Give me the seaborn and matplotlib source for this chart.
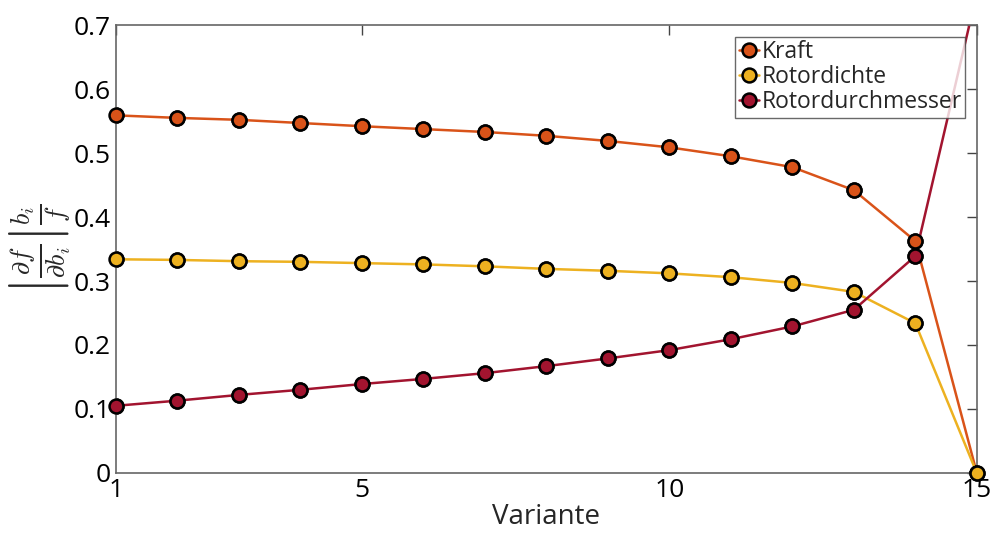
import numpy as np
import pandas as pd
import matplotlib
matplotlib.use("Agg")
import matplotlib.pyplot as plt
import seaborn as sns

variante = list(range(1, 16))
kraft = [0.559, 0.555, 0.552, 0.547, 0.542, 0.5375, 0.533, 0.527, 0.519, 0.509,
         0.495, 0.478, 0.442, 0.3625, 0.0]
rotordichte = [0.334, 0.333, 0.331, 0.330, 0.328, 0.326, 0.323, 0.319, 0.316, 0.312,
               0.306, 0.297, 0.283, 0.234, 0.0]
rotordurchmesser = [0.105, 0.113, 0.122, 0.130, 0.139, 0.147, 0.156, 0.167, 0.179, 0.192,
                    0.209, 0.229, 0.255, 0.339, 0.75]
series_names = ["Kraft", "Rotordichte", "Rotordurchmesser"]
colors = ["#D95319", "#EDB120", "#A2142F"]
xticks = [1, 5, 10, 15]
yticks = [0, 0.1, 0.2, 0.3, 0.4, 0.5, 0.6, 0.7]

df = pd.DataFrame({
    "Variante": variante * 3,
    "value": kraft + rotordichte + rotordurchmesser,
    "series": sum([[n] * len(variante) for n in series_names], []),
})

sns.set_theme(style="white")
plt.rcParams["font.family"] = ["Open Sans", "DejaVu Sans"]
plt.rcParams["mathtext.fontset"] = "cm"

fig = plt.figure(figsize=(9.94, 5.35), dpi=100)
ax = fig.add_axes([0.1167, 0.116, 0.866, 0.837])

palette = dict(zip(series_names, colors))
sns.lineplot(data=df, x="Variante", y="value", hue="series", palette=palette,
             marker="o", markersize=10, markeredgecolor="black", markeredgewidth=1.8,
             linewidth=1.8, ax=ax, legend=True, zorder=2)

ymin, ymax = 0, 0.7
for name, vals, c in zip(series_names, [kraft, rotordichte, rotordurchmesser], colors):
    xs = [x for x, v in zip(variante, vals) if ymin <= v <= ymax]
    vs = [v for v in vals if ymin <= v <= ymax]
    ax.plot(xs, vs, linestyle="none", marker="o", markersize=10, markerfacecolor=c,
            markeredgecolor="black", markeredgewidth=1.8, clip_on=False, zorder=3)

ax.set_xlim(1, 15)
ax.set_ylim(ymin, ymax)
ax.set_xticks(xticks)
ax.set_xticklabels([str(t) for t in xticks])
ax.set_yticks(yticks)
ax.set_yticklabels(["0" if t == 0 else f"{t:.1f}" for t in yticks])
ax.tick_params(axis="both", which="both", direction="in", length=7, width=1,
               color="#444444", labelsize=19, top=True, right=True, pad=4,
               labelcolor="black")
for sp in ax.spines.values():
    sp.set_color("#666666")
    sp.set_linewidth(1.2)

ax.set_xlabel("Variante", fontsize=20, labelpad=0)
ax.set_ylabel(r"$\left|\frac{\partial f}{\partial b_i}\right|\frac{b_i}{f}$", fontsize=27, labelpad=0)

leg = ax.legend(loc="upper right", fontsize=16.5, frameon=True, fancybox=False,
                handlelength=0.9, handletextpad=0.1, borderpad=0.15, labelspacing=0.05,
                borderaxespad=0.5, title=None)
leg.get_frame().set_edgecolor("#444444")
leg.get_frame().set_linewidth(1.0)
for h in leg.legend_handles:
    h.set_markersize(10)
    h.set_markeredgecolor("black")
    h.set_markeredgewidth(1.8)

fig.savefig("out.png", dpi=100)
